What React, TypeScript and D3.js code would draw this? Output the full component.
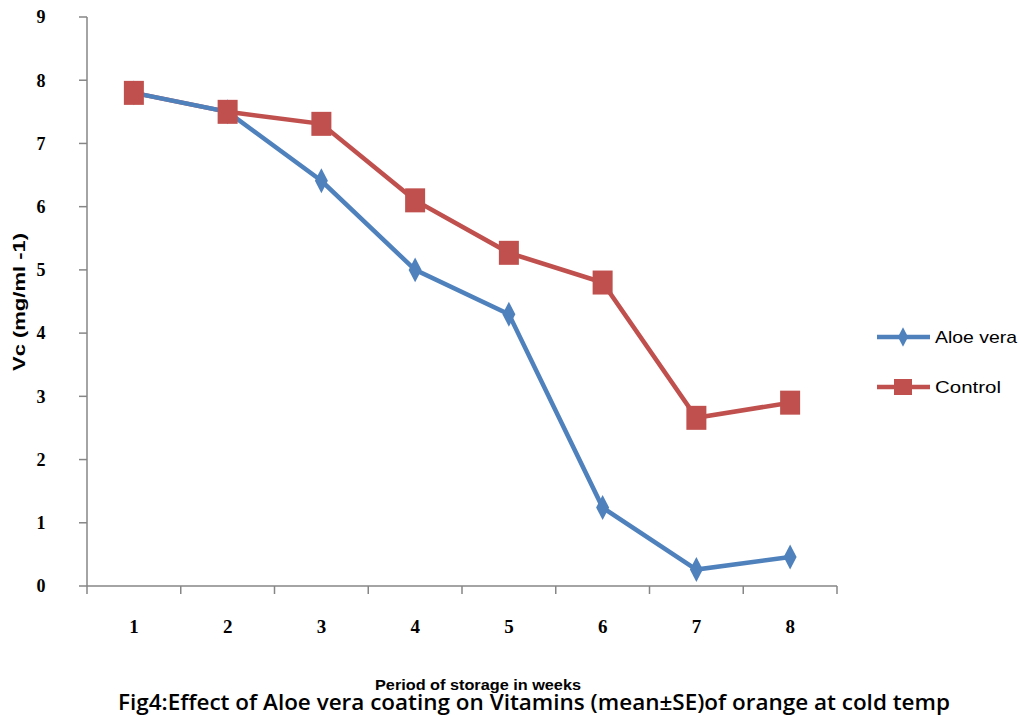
import React from "react";
import * as d3 from "d3";

const weeks = ["1", "2", "3", "4", "5", "6", "7", "8"];
const aloeVera = [7.8, 7.5, 6.41, 5.0, 4.3, 1.24, 0.26, 0.46];
const control = [7.8, 7.5, 7.31, 6.1, 5.27, 4.8, 2.66, 2.9];
const yTicks = [0, 1, 2, 3, 4, 5, 6, 7, 8, 9];
const seriesNames = ["Aloe vera", "Control"];
const colors = ["#4F81BD", "#C0504D"];

export default function App() {
  const W = 1019, H = 716;
  const x = d3.scaleBand<string>().domain(weeks).range([87, 837]);
  const y = d3.scaleLinear().domain([0, 9]).range([586, 17]);
  const cx = (w: string) => (x(w) as number) + x.bandwidth() / 2;
  const line = d3.line<number>().x((_, i) => cx(weeks[i])).y((d) => y(d));
  const boundaries = d3.range(weeks.length + 1).map((i) => 87 + i * x.bandwidth());
  const axisColor = "#868686";
  return (
    <svg width={W} height={H} style={{ position: "absolute", left: 0, top: 0, background: "#fff" }}>
      {/* y axis */}
      <line x1={87} x2={87} y1={17} y2={586} stroke={axisColor} strokeWidth={1.5} />
      {yTicks.map((t) => (
        <g key={t}>
          <line x1={79} x2={87} y1={y(t)} y2={y(t)} stroke={axisColor} strokeWidth={1.5} />
          <text x={41} y={y(t)} dy="0.35em" textAnchor="middle" fontFamily="Liberation Serif" fontWeight="bold" fontSize={18}>{t}</text>
        </g>
      ))}
      {/* x axis */}
      <line x1={87} x2={837} y1={586} y2={586} stroke={axisColor} strokeWidth={1.5} />
      {boundaries.map((b, i) => (
        <line key={i} x1={b} x2={b} y1={586} y2={594} stroke={axisColor} strokeWidth={1.5} />
      ))}
      {weeks.map((w) => (
        <text key={w} x={cx(w)} y={633} textAnchor="middle" fontFamily="Liberation Serif" fontWeight="bold" fontSize={19}>{w}</text>
      ))}
      {/* axis titles */}
      <text transform="translate(25,302) rotate(-90)" textAnchor="middle" fontFamily="Liberation Sans" fontWeight="bold" fontSize={17} textLength={138} lengthAdjust="spacingAndGlyphs">Vc (mg/ml -1)</text>
      <text x={478} y={690} textAnchor="middle" fontFamily="Liberation Sans" fontWeight="bold" fontSize={15} textLength={206} lengthAdjust="spacingAndGlyphs">Period of storage in weeks</text>
      <text x={118} y={710} fontFamily="Open Sans" fontWeight="600" fontSize={22} textLength={832} lengthAdjust="spacingAndGlyphs">Fig4:Effect of Aloe vera coating on Vitamins (mean±SE)of orange at cold temp</text>
      {/* series */}
      <path d={line(control) || ""} fill="none" stroke={colors[1]} strokeWidth={4.5} />
      <path d={line(aloeVera) || ""} fill="none" stroke={colors[0]} strokeWidth={4.5} />
      {aloeVera.map((v, i) => (
        <path key={"a" + i} d={d3.symbol(d3.symbolDiamond, 180)() || ""} transform={`translate(${cx(weeks[i])},${y(v)}) scale(0.9,1)`} fill={colors[0]} />
      ))}
      {control.map((v, i) => (
        <rect key={"c" + i} x={cx(weeks[i]) - 10} y={y(v) - 12} width={20} height={24} fill={colors[1]} />
      ))}
      {/* legend */}
      {seriesNames.map((s, i) => {
        const ly = 337 + i * 50;
        return (
          <g key={s}>
            <line x1={877} x2={930} y1={ly} y2={ly} stroke={colors[i]} strokeWidth={4.5} />
            {i === 0 ? (
              <path d={d3.symbol(d3.symbolDiamond, 110)() || ""} transform={`translate(903,${ly}) scale(0.9,1)`} fill={colors[0]} />
            ) : (
              <rect x={894} y={ly - 8} width={18} height={16} fill={colors[1]} />
            )}
            <text x={935} y={ly} dy="0.35em" fontFamily="Liberation Sans" fontSize={17} textLength={i === 0 ? 82 : 66} lengthAdjust="spacingAndGlyphs">{s}</text>
          </g>
        );
      })}
    </svg>
  );
}
